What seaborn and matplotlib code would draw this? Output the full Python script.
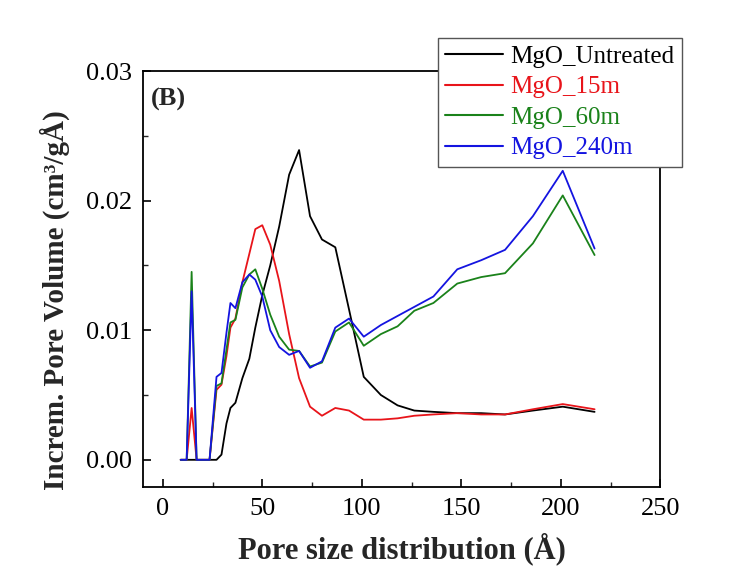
import numpy as np
import pandas as pd
import matplotlib
matplotlib.use("Agg")
import matplotlib.pyplot as plt
import seaborn as sns
from matplotlib.ticker import MultipleLocator, FormatStrFormatter

pore_size = [9, 12, 14.5, 17, 20, 23.5, 27, 29.5, 32, 34, 36.5, 40, 43.5, 46.5, 50, 54,
             58.5, 63.5, 68.5, 74, 80, 86.7, 93.6, 101, 109.6, 118, 126.4, 136, 148,
             160, 172, 186, 201, 217]

untreated = [0, 0, 0, 0, 0, 0, 0, 0.0004, 0.0028, 0.0040, 0.0044, 0.0063, 0.0078, 0.0102,
             0.0127, 0.0150, 0.0180, 0.0220, 0.0239, 0.0188, 0.0170, 0.0164, 0.0116, 0.0064,
             0.0050, 0.0042, 0.0038, 0.0037, 0.0036, 0.0036, 0.0035, 0.0038, 0.0041, 0.0037]

m15 = [0, 0, 0.0040, 0, 0, 0, 0.0054, 0.0058, 0.0080, 0.0102, 0.0109, 0.0137, 0.0159, 0.0178,
       0.0181, 0.0166, 0.0138, 0.0097, 0.0063, 0.0041, 0.0034, 0.0040, 0.0038, 0.0031,
       0.0031, 0.0032, 0.0034, 0.0035, 0.0036, 0.0035, 0.0035, 0.0039, 0.0043, 0.0039]

m60 = [0, 0, 0.0145, 0, 0, 0, 0.0057, 0.0059, 0.0085, 0.0106, 0.0108, 0.0133, 0.0143, 0.0147,
       0.0132, 0.0112, 0.0095, 0.0085, 0.0084, 0.0072, 0.0075, 0.0099, 0.0106, 0.0088,
       0.0097, 0.0103, 0.0115, 0.0121, 0.0136, 0.0141, 0.0144, 0.0167, 0.0204, 0.0158]

m240 = [0, 0, 0.0130, 0, 0, 0, 0.0064, 0.0067, 0.0098, 0.0121, 0.0117, 0.0137, 0.0143, 0.0139,
        0.0126, 0.0100, 0.0087, 0.0081, 0.0084, 0.0071, 0.0076, 0.0102, 0.0109, 0.0095,
        0.0104, 0.0111, 0.0118, 0.0126, 0.0147, 0.0154, 0.0162, 0.0188, 0.0223, 0.0163]

series_names = ["MgO_Untreated", "MgO_15m", "MgO_60m", "MgO_240m"]
series_colors = ["#000000", "#e8141a", "#1a821a", "#1414e0"]

frames = []
for name, vals in zip(series_names, [untreated, m15, m60, m240]):
    frames.append(pd.DataFrame({"x": pore_size, "y": vals, "sample": name}))
df = pd.concat(frames, ignore_index=True)

sns.set_theme(style="white")
plt.rcParams["font.family"] = ["Liberation Serif", "DejaVu Serif"]

fig = plt.figure(figsize=(7.52, 5.75), dpi=100)
ax = fig.add_axes([0.190, 0.153, 0.688, 0.7235])

sns.lineplot(data=df, x="x", y="y", hue="sample", hue_order=series_names,
             palette=dict(zip(series_names, series_colors)), linewidth=1.3,
             sort=False, estimator=None, ax=ax, legend=False)

ax.set_xlim(-10, 250)
ax.set_ylim(-0.0021, 0.03)
ax.xaxis.set_major_locator(MultipleLocator(50))
ax.xaxis.set_minor_locator(MultipleLocator(25))
ax.yaxis.set_major_locator(MultipleLocator(0.01))
ax.yaxis.set_minor_locator(MultipleLocator(0.005))
ax.yaxis.set_major_formatter(FormatStrFormatter("%.2f"))

ax.tick_params(axis="both", which="major", direction="in", length=6, width=1.2,
               labelsize=19, colors="black", bottom=True, left=True, top=False, right=False, pad=8)
ax.tick_params(axis="both", which="minor", direction="in", length=3.5, width=1.0,
               bottom=True, left=True, top=False, right=False)
for s in ax.spines.values():
    s.set_visible(True)
    s.set_color("black")
    s.set_linewidth(1.3)

ax.set_xlabel("Pore size distribution (Å)", fontsize=22, fontweight="bold", labelpad=9)
ax.set_ylabel("Increm. Pore Volume (cm³/gÅ)", fontsize=21, fontweight="bold")
ax.yaxis.set_label_coords(-0.141, 0.45)

ax.text(0.015, 0.96, "(B)", transform=ax.transAxes, fontsize=19, fontweight="bold",
        va="top", ha="left")

handles = [plt.Line2D([], [], color=c, lw=1.5) for c in series_colors]
leg = fig.legend(handles, series_names, loc="upper left", bbox_to_anchor=(0.5824, 0.934),
                 borderaxespad=0, frameon=True, fancybox=False, framealpha=1,
                 edgecolor="#555555", fontsize=18, handlelength=2.3, handletextpad=0.3,
                 labelspacing=0.32, borderpad=0.3, labelcolor=series_colors)
leg.get_frame().set_linewidth(1.0)

fig.savefig("out.png", dpi=100, facecolor="white")
